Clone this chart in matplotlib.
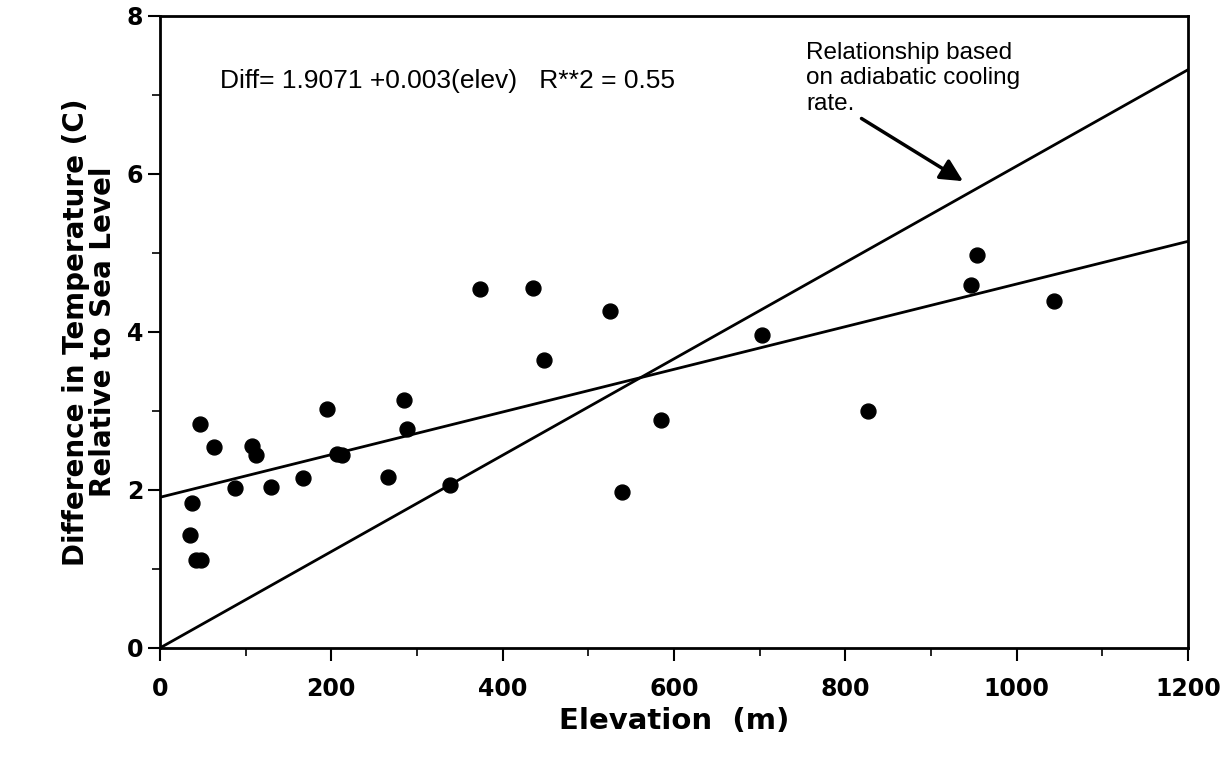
import matplotlib.pyplot as plt
import numpy as np
from matplotlib.ticker import MultipleLocator

# elevation (m) and temperature difference (C) for each station
elev = [47, 63, 38, 35, 42, 48, 88, 107, 112, 130, 167, 195, 207, 213,
        266, 285, 288, 339, 373, 435, 448, 525, 539, 585, 703, 826, 947, 953, 1043]
diff = [2.84, 2.55, 1.83, 1.43, 1.11, 1.11, 2.03, 2.56, 2.44, 2.04, 2.15, 3.03, 2.45, 2.44,
        2.16, 3.14, 2.77, 2.06, 4.54, 4.55, 3.65, 4.26, 1.97, 2.89, 3.96, 3.00, 4.59, 4.98, 4.39]

# fitted regression and adiabatic lapse line
fit_a, fit_b = 1.9071, 0.0027
adiab_b = 0.0061
x_line = [0, 1200]

plt.rcParams['font.family'] = ['Liberation Sans', 'DejaVu Sans']

fig = plt.figure(figsize=(12.3, 7.57), dpi=100)
ax = fig.add_axes([0.130, 0.144, 0.836, 0.835])

ax.scatter(elev, diff, s=115, color='black', zorder=3)
ax.plot(x_line, [fit_a + fit_b * x for x in x_line], color='black', lw=2)
ax.plot(x_line, [adiab_b * x for x in x_line], color='black', lw=2)

ax.set_xlim(0, 1200)
ax.set_ylim(0, 8)
ax.xaxis.set_major_locator(MultipleLocator(200))
ax.xaxis.set_minor_locator(MultipleLocator(100))
ax.yaxis.set_major_locator(MultipleLocator(2))
ax.yaxis.set_minor_locator(MultipleLocator(1))
ax.tick_params(which='major', direction='out', length=9, width=1.5)
ax.tick_params(which='minor', direction='out', length=6, width=1.2)
ax.tick_params(axis='x', which='major', pad=12)
ax.tick_params(axis='y', which='major', pad=3)
for lab in ax.get_xticklabels() + ax.get_yticklabels():
    lab.set_fontweight('bold')
    lab.set_fontsize(17)
    lab.set_family(['DejaVu Sans'])
for sp in ax.spines.values():
    sp.set_linewidth(2)

ax.set_xlabel('Elevation  (m)', fontsize=21, fontweight='bold', labelpad=4,
              family=['DejaVu Sans'])
ax.set_ylabel('Difference in Temperature (C)\nRelative to Sea Level',
              fontsize=20, fontweight='bold', labelpad=7, linespacing=0.95,
              family=['DejaVu Sans'])

ax.text(70, 7.18, 'Diff= 1.9071 +0.003(elev)   R**2 = 0.55', fontsize=19, va='center')
ax.text(754, 7.67, 'Relationship based\non adiabatic cooling\nrate.',
        fontsize=17.5, va='top', linespacing=1.2)
ax.annotate('', xy=(940, 5.89), xytext=(816, 6.72),
            arrowprops=dict(arrowstyle='-|>', color='black', lw=2.5,
                            mutation_scale=34))

fig.savefig('out.png', dpi=100)
